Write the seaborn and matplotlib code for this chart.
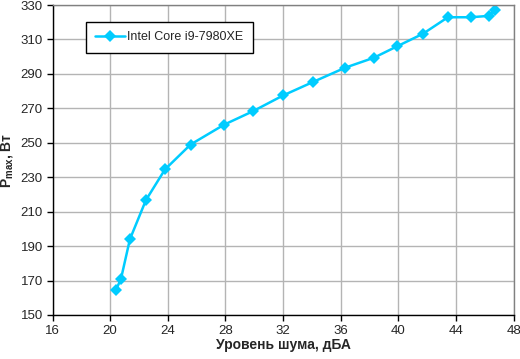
import pandas as pd
import matplotlib
matplotlib.use("Agg")
import matplotlib.pyplot as plt
import seaborn as sns

# Data
noise_dba = [20.4, 20.75, 21.37, 22.48, 23.8, 25.58, 27.9, 29.9, 32.0, 34.07,
             36.3, 38.3, 39.9, 41.7, 43.43, 45.02, 46.27, 46.69]
pmax_w = [164.5, 171.0, 194.0, 216.7, 234.5, 249.0, 260.5, 268.3, 277.5, 285.3,
          293.6, 299.4, 306.0, 313.3, 322.9, 322.9, 323.7, 327.2]
series_name = "Intel Core i9-7980XE"
x_ticks = [16, 20, 24, 28, 32, 36, 40, 44, 48]
y_ticks = [150, 170, 190, 210, 230, 250, 270, 290, 310, 330]

df = pd.DataFrame({"noise": noise_dba, "pmax": pmax_w, "cpu": series_name})

sns.set_style("white")
plt.rcParams['font.family'] = ['Liberation Sans', 'DejaVu Sans']

fig = plt.figure(figsize=(5.2, 3.59), dpi=100)
ax = fig.add_axes([0.101, 0.1226, 0.887, 0.8634])

sns.lineplot(data=df, x="noise", y="pmax", hue="cpu", palette=["#00CCFF"],
             marker="D", markersize=6, markeredgewidth=0, linewidth=1.8,
             sort=False, ax=ax)

ax.set_xlim(16, 48)
ax.set_ylim(150, 330)
ax.set_xticks(x_ticks)
ax.set_yticks(y_ticks)
ax.grid(True, color="#B4B4B4", linewidth=1)
ax.set_axisbelow(True)

for side in ["top", "right"]:
    ax.spines[side].set_color("#808080")
    ax.spines[side].set_linewidth(1)
for side in ["left", "bottom"]:
    ax.spines[side].set_color("black")
    ax.spines[side].set_linewidth(1)

ax.tick_params(axis="both", direction="out", length=4, width=1, color="black",
               labelsize=9.5, pad=3, left=True, bottom=True)

ax.set_xlabel("Уровень шума, дБА", fontsize=10, fontweight="bold", labelpad=1)
ax.set_ylabel(r"P$_{\mathregular{max}}$, Вт", fontsize=10, fontweight="bold", labelpad=4)

leg = ax.legend(loc="upper left", bbox_to_anchor=(0.0726, 0.945), frameon=True,
                fancybox=False, edgecolor="black", fontsize=9,
                handlelength=2.4, borderpad=0.75, handletextpad=0.15,
                borderaxespad=0)
leg.get_frame().set_linewidth(1)
leg.get_frame().set_facecolor("white")
leg.get_frame().set_alpha(1)

fig.savefig("out.png", dpi=100)
